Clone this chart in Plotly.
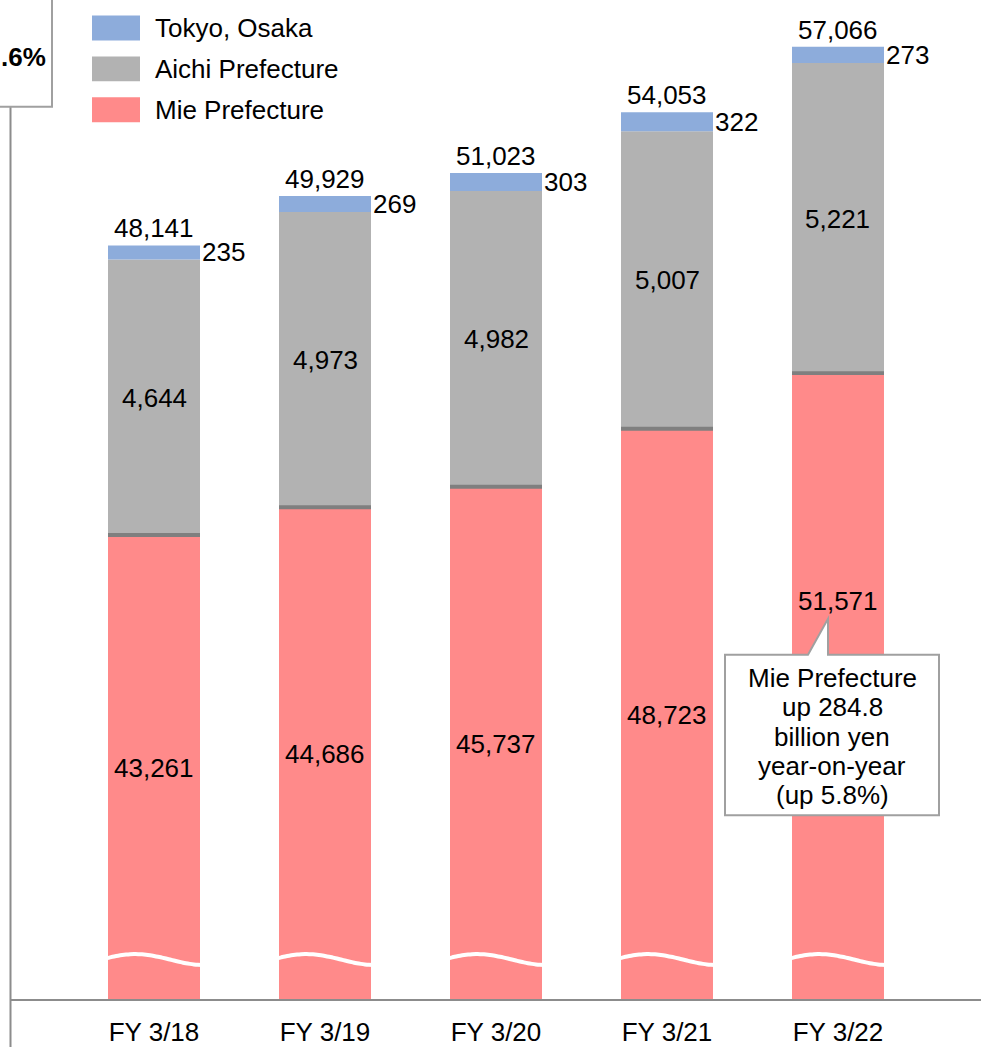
import numpy as np
import plotly.graph_objects as go

# ---------------- data ----------------
categories = ["FY 3/18", "FY 3/19", "FY 3/20", "FY 3/21", "FY 3/22"]
mie = [43261, 44686, 45737, 48723, 51571]
aichi = [4644, 4973, 4982, 5007, 5221]
tokyo = [235, 269, 303, 322, 273]
totals = [48141, 49929, 51023, 54053, 57066]
series_names = ["Tokyo, Osaka", "Aichi Prefecture", "Mie Prefecture"]
callout_lines = ["Mie Prefecture", "up 284.8", "billion yen", "year-on-year", "(up 5.8%)"]
corner_text = ".6%"

# ---------------- styling ----------------
W, H = 981, 1047
PLOT_H = 1002            # plot area height in px (y units == px)
BLUE, GRAY, PINK = "#8DACDB", "#B2B2B2", "#FF8A8A"
SEP = "#7F7F7F"
AXIS = "#8C8C8C"
FONT = "Liberation Sans, Arial, sans-serif"
LBL = 26

# broken-axis transform: Mie bar is drawn with a cut, upper segments at a larger scale
MIE_CUT, MIE_SCALE, UP_SCALE = 19460, 0.01953, 0.0597
MIE_LABEL_POS = [0.5, 0.5, 0.5, 0.5, 0.637]   # relative height of Mie label in bar
BAR_W = 0.538
X0, X1 = -0.9006, 4.8363

x = np.arange(len(categories))
mie_h = (np.array(mie) - MIE_CUT) * MIE_SCALE
aichi_h = np.array(aichi) * UP_SCALE
tokyo_h = np.array(tokyo) * UP_SCALE
top_h = mie_h + aichi_h + tokyo_h


def px(p):
    return p / W


def py(p):
    return (PLOT_H - p) / PLOT_H


fig = go.Figure()
fig.add_bar(x=x, y=mie_h, width=BAR_W, marker=dict(color=PINK, line=dict(width=0)),
            name=series_names[2], showlegend=False, hoverinfo="skip")
fig.add_bar(x=x, y=aichi_h, base=mie_h, width=BAR_W, marker=dict(color=GRAY, line=dict(width=0)),
            name=series_names[1], showlegend=False, hoverinfo="skip")
fig.add_bar(x=x, y=tokyo_h, base=mie_h + aichi_h, width=BAR_W,
            marker=dict(color=BLUE, line=dict(width=0)),
            name=series_names[0], showlegend=False, hoverinfo="skip")

# wavy break line across each Mie bar
wx, wy = [], []
t = np.linspace(-0.02, 1.02, 25)
for i in x:
    wx += list(i - BAR_W / 2 + t * BAR_W) + [None]
    wy += list(40.5 + 5.5 * np.cos(np.pi * (t - 0.3) / 0.75)) + [None]
fig.add_scatter(x=wx, y=wy, mode="lines", line=dict(color="white", width=4, shape="spline"),
                showlegend=False, hoverinfo="skip")

shapes = []
annotations = []

# separator lines between Mie and Aichi
for i in x:
    shapes.append(dict(type="rect", xref="x", yref="y", x0=i - BAR_W / 2, x1=i + BAR_W / 2,
                       y0=mie_h[i] - 1, y1=mie_h[i] + 3, fillcolor=SEP, line=dict(width=0),
                       layer="above"))

# labels
for i in x:
    annotations.append(dict(x=i, y=top_h[i], xref="x", yref="y", text=f"{totals[i]:,}",
                            showarrow=False, yanchor="bottom", yshift=0,
                            font=dict(size=LBL, color="black", family=FONT)))
    annotations.append(dict(x=i + BAR_W / 2, y=mie_h[i] + aichi_h[i] + tokyo_h[i] / 2,
                            xref="x", yref="y", text=f"{tokyo[i]:,}", showarrow=False,
                            xanchor="left", yanchor="middle", xshift=0,
                            font=dict(size=LBL, color="black", family=FONT)))
    annotations.append(dict(x=i, y=mie_h[i] + aichi_h[i] / 2, xref="x", yref="y",
                            text=f"{aichi[i]:,}", showarrow=False, yanchor="middle",
                            font=dict(size=LBL, color="black", family=FONT)))
    annotations.append(dict(x=i, y=mie_h[i] * MIE_LABEL_POS[i], xref="x", yref="y",
                            text=f"{mie[i]:,}", showarrow=False, yanchor="middle",
                            font=dict(size=LBL, color="black", family=FONT)))

# axes lines
shapes.append(dict(type="line", xref="paper", yref="paper", x0=px(10.5), x1=px(10.5),
                   y0=py(107), y1=py(1050), line=dict(color=AXIS, width=2)))
shapes.append(dict(type="line", xref="paper", yref="paper", x0=px(10), x1=1.0,
                   y0=py(1002), y1=py(1002), line=dict(color=AXIS, width=2)))

# corner box
shapes.append(dict(type="rect", xref="paper", yref="paper", x0=px(-10), x1=px(52),
                   y0=py(107), y1=py(-10), fillcolor="white", line=dict(color="#A0A0A0", width=2)))
annotations.append(dict(x=px(48), y=py(57), xref="paper", yref="paper", text=f"<b>{corner_text}</b>",
                        showarrow=False, xanchor="right", yanchor="middle",
                        font=dict(size=26, color="black", family=FONT)))

# legend (manual, large swatches)
for k, (name, col, cy) in enumerate(zip(series_names, [BLUE, GRAY, PINK], [28, 69, 110])):
    shapes.append(dict(type="rect", xref="paper", yref="paper", x0=px(92), x1=px(140),
                       y0=py(cy + 12.5), y1=py(cy - 12.5), fillcolor=col, line=dict(width=0)))
    annotations.append(dict(x=px(153), y=py(cy), xref="paper", yref="paper", text=name,
                            showarrow=False, xanchor="left", yanchor="middle",
                            font=dict(size=LBL, color="black", family=FONT)))

# callout box with pointer
path = (f"M {px(725)},{py(656)} L {px(808)},{py(656)} L {px(828)},{py(620)} L {px(828)},{py(656)} "
        f"L {px(939)},{py(656)} L {px(939)},{py(817)} L {px(725)},{py(817)} Z")
shapes.append(dict(type="path", xref="paper", yref="paper", path=path, fillcolor="white",
                   line=dict(color="#A0A0A0", width=2)))
for line, cy in zip(callout_lines, [679, 708.5, 738, 767.5, 797]):
    annotations.append(dict(x=px(832), y=py(cy), xref="paper", yref="paper", text=line,
                            showarrow=False, xanchor="center", yanchor="middle",
                            font=dict(size=LBL, color="black", family=FONT)))

fig.update_layout(
    width=W, height=H,
    margin=dict(l=0, r=0, t=0, b=H - PLOT_H, pad=0),
    barmode="overlay",
    plot_bgcolor="white", paper_bgcolor="white",
    xaxis=dict(range=[X0, X1], tickvals=list(x), ticktext=categories, showgrid=False,
               zeroline=False, showline=False, ticks="", ticklabelstandoff=14,
               tickfont=dict(size=LBL, color="black", family=FONT), fixedrange=True),
    yaxis=dict(range=[0, PLOT_H], visible=False, fixedrange=True),
    shapes=shapes, annotations=annotations, showlegend=False,
    font=dict(family=FONT),
)

fig.write_html("out.html")
